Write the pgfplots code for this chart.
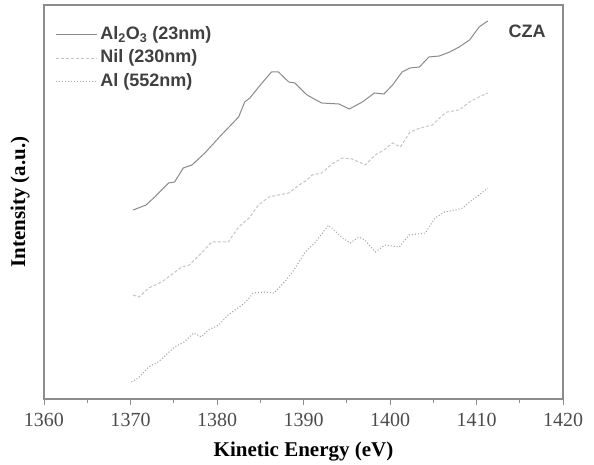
\documentclass[border=0pt]{standalone}
\usepackage{fontspec}
\setmainfont{Liberation Serif}
\newfontfamily\arialfont{Liberation Sans}
\usepackage{pgfplots}
\pgfplotsset{compat=1.18}

\definecolor{frame}{HTML}{8C8C8C}
\definecolor{cAlO}{HTML}{8A8A8A}
\definecolor{cNil}{HTML}{C4C4C4}
\definecolor{cAl}{HTML}{A4A4A4}

\begin{document}
\begin{tikzpicture}[x=1pt,y=1pt]
\useasboundingbox (0,0) rectangle (594,465);
\begin{axis}[
  at={(44pt,66pt)}, anchor=south west,
  scale only axis, width=519pt, height=394pt,
  xmin=1360, xmax=1420, ymin=-1, ymax=393,
  xtick={1360,1370,...,1420}, minor x tick num=1,
  ytick=\empty, xtick pos=left,
  tick align=outside,
  major tick length=6pt, minor tick length=4pt,
  axis line style={frame, line width=1.5pt},
  every tick/.style={frame, line width=1pt},
  tick label style={font=\fontsize{20}{24}\selectfont, text=black!70},
  xticklabel style={yshift=-5pt},
  /pgf/number format/assume math mode=true,
  /pgf/number format/1000 sep={},
  xlabel={Kinetic Energy (eV)},
  xlabel style={font=\fontsize{21}{24}\selectfont\bfseries, at={(axis description cs:0.5,0)}, anchor=center, yshift=-53pt},
  ylabel={Intensity (a.u.)},
  ylabel style={font=\fontsize{21}{24}\selectfont\bfseries, at={(axis description cs:-0.0462,0.5)}, anchor=center},
  legend style={at={(axis description cs:0,1)}, anchor=north west, xshift=8pt, yshift=-20pt,
    draw=none, fill=none, font=\arialfont\bfseries\fontsize{18}{20}\selectfont, text=black!75,
    row sep=8.5pt, nodes={inner ysep=0pt, inner xsep=3pt, text height=12pt, text depth=3pt}},
  legend cell align=left,
  legend image code/.code={\draw[#1] (0pt,0pt) -- (41pt,0pt);},
]
\addplot[cAlO, line width=1pt] coordinates {
(1370.3,188) (1371.8,193) (1372.8,201) (1374.4,215) (1375.1,216) (1376.1,230)
(1377.1,233) (1378.6,245) (1380.5,263) (1382.5,281) (1383.2,296) (1383.8,300)
(1385.2,315) (1386.3,326) (1387.1,326) (1388.3,316) (1389.0,315) (1390.4,303)
(1392.1,295) (1394.1,294) (1395.3,289) (1396.8,296) (1397.9,303) (1398.2,305)
(1399.3,304) (1400.3,313) (1401.4,326) (1402.3,330) (1403.4,331) (1404.5,341)
(1405.7,342) (1406.9,346) (1408.0,351) (1409.2,358) (1410.3,371) (1411.3,377)
};
\addlegendentry{Al\textsubscript{2}O\textsubscript{3} (23nm)}

\addplot[cNil, line width=1pt, dash pattern=on 3pt off 2pt] coordinates {
(1370.3,103) (1371.0,101) (1372.1,110) (1373.6,116) (1374.7,123) (1375.9,131)
(1376.8,133) (1378.2,145) (1379.4,156) (1380.9,156) (1381.3,156) (1382.5,171)
(1383.7,180) (1384.8,193) (1386.0,201) (1387.1,203) (1388.3,205) (1389.5,213)
(1390.4,218) (1391.0,223) (1392.1,225) (1393.3,234) (1394.5,240) (1395.6,239)
(1396.4,236) (1397.1,233) (1398.3,243) (1399.3,248) (1400.3,255) (1401.2,251)
(1402.3,266) (1403.5,270) (1404.9,273) (1406.1,283) (1406.6,286) (1408.0,288)
(1409.2,296) (1410.3,301) (1411.3,305)
};
\addlegendentry{Nil (230nm)}

\addplot[cAl, line width=1.1pt, dash pattern=on 1pt off 2pt] coordinates {
(1370.1,16) (1370.9,20) (1372.1,31) (1373.2,36) (1375.1,51) (1376.2,56)
(1377.3,65) (1378.2,61) (1379.0,68) (1380.2,73) (1381.3,83) (1383.2,95)
(1384.2,105) (1385.5,106) (1386.6,105) (1387.8,116) (1388.9,128) (1390.2,146)
(1391.3,155) (1392.9,173) (1394.5,160) (1395.4,155) (1396.4,161) (1397.1,158)
(1398.3,146) (1399.4,153) (1401.1,151) (1402.2,163) (1404.1,165) (1405.2,180)
(1406.3,186) (1407.6,188) (1408.4,190) (1409.5,198) (1410.3,203) (1411.3,210)
};
\addlegendentry{Al (552nm)}

\node[font=\arialfont\bfseries\fontsize{18}{20}\selectfont, text=black!75]
  at (axis description cs:0.931,0.932) {CZA};
\end{axis}
\end{tikzpicture}
\end{document}
